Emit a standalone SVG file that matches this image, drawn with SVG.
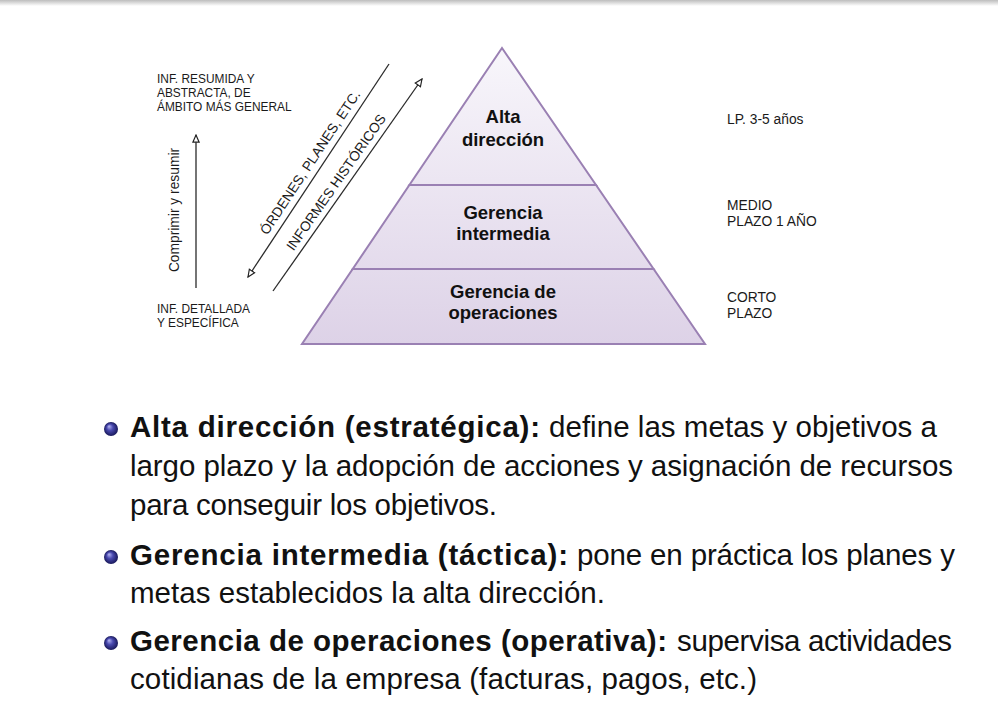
<svg xmlns="http://www.w3.org/2000/svg" width="998" height="713" viewBox="0 0 998 713">
<defs>
<linearGradient id="topband" x1="0" y1="0" x2="0" y2="1">
<stop offset="0" stop-color="#bdbdbd"/>
<stop offset="1" stop-color="#ffffff"/>
</linearGradient>
<linearGradient id="pyr" gradientUnits="userSpaceOnUse" x1="0" y1="48" x2="0" y2="344">
<stop offset="0" stop-color="#f8f6fb"/>
<stop offset="1" stop-color="#ddd2e7"/>
</linearGradient>
<radialGradient id="ball" cx="0.5" cy="0.5" r="0.5" fx="0.35" fy="0.3">
<stop offset="0" stop-color="#b8b8f4"/>
<stop offset="0.45" stop-color="#4a4ab0"/>
<stop offset="1" stop-color="#18185a"/>
</radialGradient>
<marker id="open" viewBox="0 0 10 10" refX="9" refY="5" markerWidth="9" markerHeight="9" markerUnits="userSpaceOnUse" orient="auto">
<path d="M1,1.5 L9,5 L1,8.5 Z" fill="#ffffff" stroke="#222" stroke-width="1.3" stroke-linejoin="miter"/>
</marker>
<style>
.lvl{fill:url(#pyr);stroke:#9a80b3;stroke-width:2;stroke-linejoin:miter}
.pt{font-family:"Liberation Sans",Arial,sans-serif;font-weight:bold;font-size:18.5px;fill:#111;text-anchor:middle}
.sm{font-family:"Liberation Sans",Arial,sans-serif;font-size:11.9px;fill:#1a1a1a}
.md{font-family:"Liberation Sans",Arial,sans-serif;font-size:13.8px;fill:#1a1a1a}
.ln{stroke:#2a2a2a;stroke-width:1.3;fill:none}
.bt{font-family:"Liberation Sans","DejaVu Sans",sans-serif;font-size:29.5px;fill:#111}
.bb{font-weight:bold}
</style>
</defs>
<rect x="0" y="0" width="998" height="713" fill="#ffffff"/>
<rect x="0" y="0" width="998" height="6" fill="url(#topband)"/>

<g id="nivel-alta">
<polygon class="lvl" points="502,48 596,185 409.4,185"/>
<text class="pt" x="503" y="123">Alta</text>
<text class="pt" x="503" y="146">dirección</text>
</g>
<g id="nivel-intermedia">
<polygon class="lvl" points="409.4,185 596,185 653.6,269 352.7,269"/>
<text class="pt" x="503" y="219">Gerencia</text>
<text class="pt" x="503" y="240">intermedia</text>
</g>
<g id="nivel-operaciones">
<polygon class="lvl" points="352.7,269 653.6,269 705,344 302,344"/>
<text class="pt" x="503" y="298">Gerencia de</text>
<text class="pt" x="503" y="319">operaciones</text>
</g>

<g id="label-resumida">
<text class="sm" x="157" y="83">INF. RESUMIDA Y</text>
<text class="sm" x="157" y="97">ABSTRACTA, DE</text>
<text class="sm" x="157" y="111">ÁMBITO MÁS GENERAL</text>
</g>
<g id="label-detallada">
<text class="sm" x="157" y="313">INF. DETALLADA</text>
<text class="sm" x="157" y="327">Y ESPECÍFICA</text>
</g>
<g id="label-comprimir">
<text class="md" transform="translate(179,210) rotate(-90)" text-anchor="middle">Comprimir y resumir</text>
</g>
<g id="label-ordenes">
<text class="md" transform="translate(314,165) rotate(-56.5)" text-anchor="middle">ÓRDENES, PLANES, ETC.</text>
</g>
<g id="label-informes">
<text class="md" transform="translate(340,185) rotate(-55)" text-anchor="middle">INFORMES HISTÓRICOS</text>
</g>

<g id="plazo-largo">
<text class="md" x="727" y="124">LP. 3-5 años</text>
</g>
<g id="plazo-medio">
<text class="md" x="727" y="210">MEDIO</text>
<text class="md" x="727" y="226">PLAZO 1 AÑO</text>
</g>
<g id="plazo-corto">
<text class="md" x="727" y="302">CORTO</text>
<text class="md" x="727" y="318">PLAZO</text>
</g>

<g id="connectors">
<line class="ln" x1="196" y1="288" x2="196" y2="135" marker-end="url(#open)"/>
<line class="ln" x1="389" y1="64" x2="248" y2="277" marker-end="url(#open)"/>
<line class="ln" x1="273" y1="291" x2="422" y2="79" marker-end="url(#open)"/>
</g>

<g id="bullets">
<circle cx="111" cy="429" r="7" fill="url(#ball)"/>
<circle cx="111" cy="557" r="7" fill="url(#ball)"/>
<circle cx="111" cy="643" r="7" fill="url(#ball)"/>
<text class="bt bb" x="130" y="437" textLength="410">Alta dirección (estratégica):</text>
<text class="bt" x="549" y="437" textLength="388">define las metas y objetivos a</text>
<text class="bt" x="130" y="476" textLength="823">largo plazo y la adopción de acciones y asignación de recursos</text>
<text class="bt" x="130" y="515" textLength="367">para conseguir los objetivos.</text>
<text class="bt bb" x="130" y="565" textLength="438">Gerencia intermedia (táctica):</text>
<text class="bt" x="577" y="565" textLength="378">pone en práctica los planes y</text>
<text class="bt" x="130" y="603" textLength="475">metas establecidos la alta dirección.</text>
<text class="bt bb" x="130" y="651" textLength="537">Gerencia de operaciones (operativa):</text>
<text class="bt" x="677" y="651" textLength="275">supervisa actividades</text>
<text class="bt" x="130" y="689" textLength="627">cotidianas de la empresa (facturas, pagos, etc.)</text>
</g>
</svg>
